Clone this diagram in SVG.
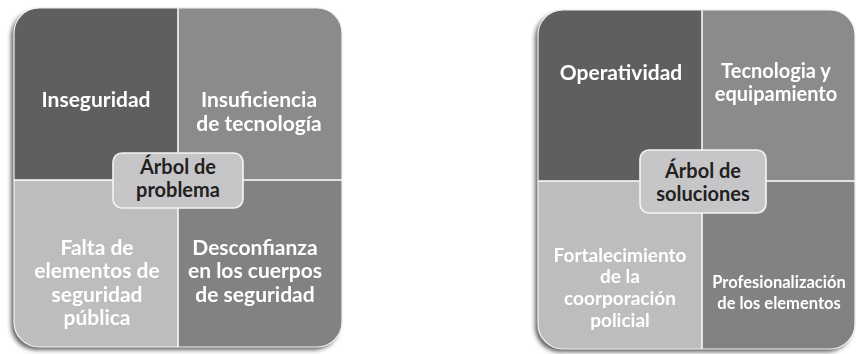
<svg xmlns="http://www.w3.org/2000/svg" width="856" height="354" viewBox="0 0 856 354">
<defs>
<filter id="sh" x="-10%" y="-10%" width="120%" height="120%">
<feDropShadow dx="-3" dy="3" stdDeviation="2.2" flood-color="#303030" flood-opacity="0.75"/>
</filter>
<style>
.q{stroke:none}
.d1{fill:#5f5f62}
.d2{fill:#8b8b8e}
.d3{fill:#bdbdc0}
.d4{fill:#828285}
.div{stroke:#ffffff;stroke-width:1.5;fill:none}
.edge{stroke:#f2f2f2;stroke-width:1.2;fill:none}
.c{fill:#c6c6c9;stroke:#f4f4f4;stroke-width:1.6}
text{font-family:Lato,"Open Sans","Liberation Sans",sans-serif;font-weight:700;text-anchor:middle}
.w{fill:#ffffff;font-size:21px}
.v{fill:#ffffff;font-size:20px}
.k{fill:#231f20;font-size:20px}
.s{fill:#ffffff;font-size:19px}
.t{fill:#ffffff;font-size:16.5px}
</style>
</defs>
<rect width="856" height="354" fill="#ffffff"/>

<g id="panel-problema" filter="url(#sh)">
<g id="inseguridad">
<path class="q d1" d="M14,180 V33 A25,25 0 0 1 39,8 H178 V180 Z"/>
<text class="w" x="96" y="107">Inseguridad</text>
</g>
<g id="insuficiencia">
<path class="q d2" d="M178,8 H317 A25,25 0 0 1 342,33 V180 H178 Z"/>
<text class="w" x="259" y="107">Insuficiencia</text>
<text class="w" x="259" y="131">de tecnología</text>
</g>
<g id="falta">
<path class="q d3" d="M14,180 H178 V347 H39 A25,25 0 0 1 14,322 Z"/>
<text class="w" x="97" y="255">Falta de</text>
<text class="w" x="97" y="278">elementos de</text>
<text class="w" x="97" y="302">seguridad</text>
<text class="w" x="97" y="325">pública</text>
</g>
<g id="desconfianza">
<path class="q d4" d="M178,180 H342 V322 A25,25 0 0 1 317,347 H178 Z"/>
<text class="w" x="255" y="255">Desconfianza</text>
<text class="w" x="255" y="278">en los cuerpos</text>
<text class="w" x="255" y="302">de seguridad</text>
</g>
</g>

<g id="panel-soluciones" filter="url(#sh)">
<g id="operatividad">
<path class="q d1" d="M538,181 V35 A25,25 0 0 1 563,10 H702 V181 Z"/>
<text class="w" x="621" y="80">Operatividad</text>
</g>
<g id="tecnologia">
<path class="q d2" d="M702,10 H830 A25,25 0 0 1 855,35 V181 H702 Z"/>
<text class="v" x="776" y="78">Tecnologia y</text>
<text class="v" x="776" y="101">equipamiento</text>
</g>
<g id="fortalecimiento">
<path class="q d3" d="M538,181 H702 V349 H563 A25,25 0 0 1 538,324 Z"/>
<text class="s" x="620" y="262">Fortalecimiento</text>
<text class="s" x="620" y="283">de la</text>
<text class="s" x="620" y="305">coorporación</text>
<text class="s" x="620" y="327">policial</text>
</g>
<g id="profesionalizacion">
<path class="q d4" d="M702,181 H855 V324 A25,25 0 0 1 830,349 H702 Z"/>
<text class="t" x="779" y="288">Profesionalización</text>
<text class="t" x="779" y="309">de los elementos</text>
</g>
</g>

<g id="connectors">
<line class="div" x1="178" y1="8" x2="178" y2="347"/>
<line class="div" x1="14" y1="180" x2="342" y2="180"/>
<line class="div" x1="702" y1="10" x2="702" y2="349"/>
<line class="div" x1="538" y1="181" x2="855" y2="181"/>
<rect class="edge" x="14" y="8" width="328" height="339" rx="25"/>
<rect class="edge" x="538" y="10" width="317" height="339" rx="25"/>
</g>

<g id="arbol-problema">
<rect class="c" x="113" y="153" width="130" height="55" rx="9"/>
<text class="k" x="178" y="174">Árbol de</text>
<text class="k" x="178" y="197">problema</text>
</g>
<g id="arbol-soluciones">
<rect class="c" x="640" y="150" width="126" height="63" rx="9"/>
<text class="k" x="703" y="178">Árbol de</text>
<text class="k" x="703" y="201">soluciones</text>
</g>
</svg>
